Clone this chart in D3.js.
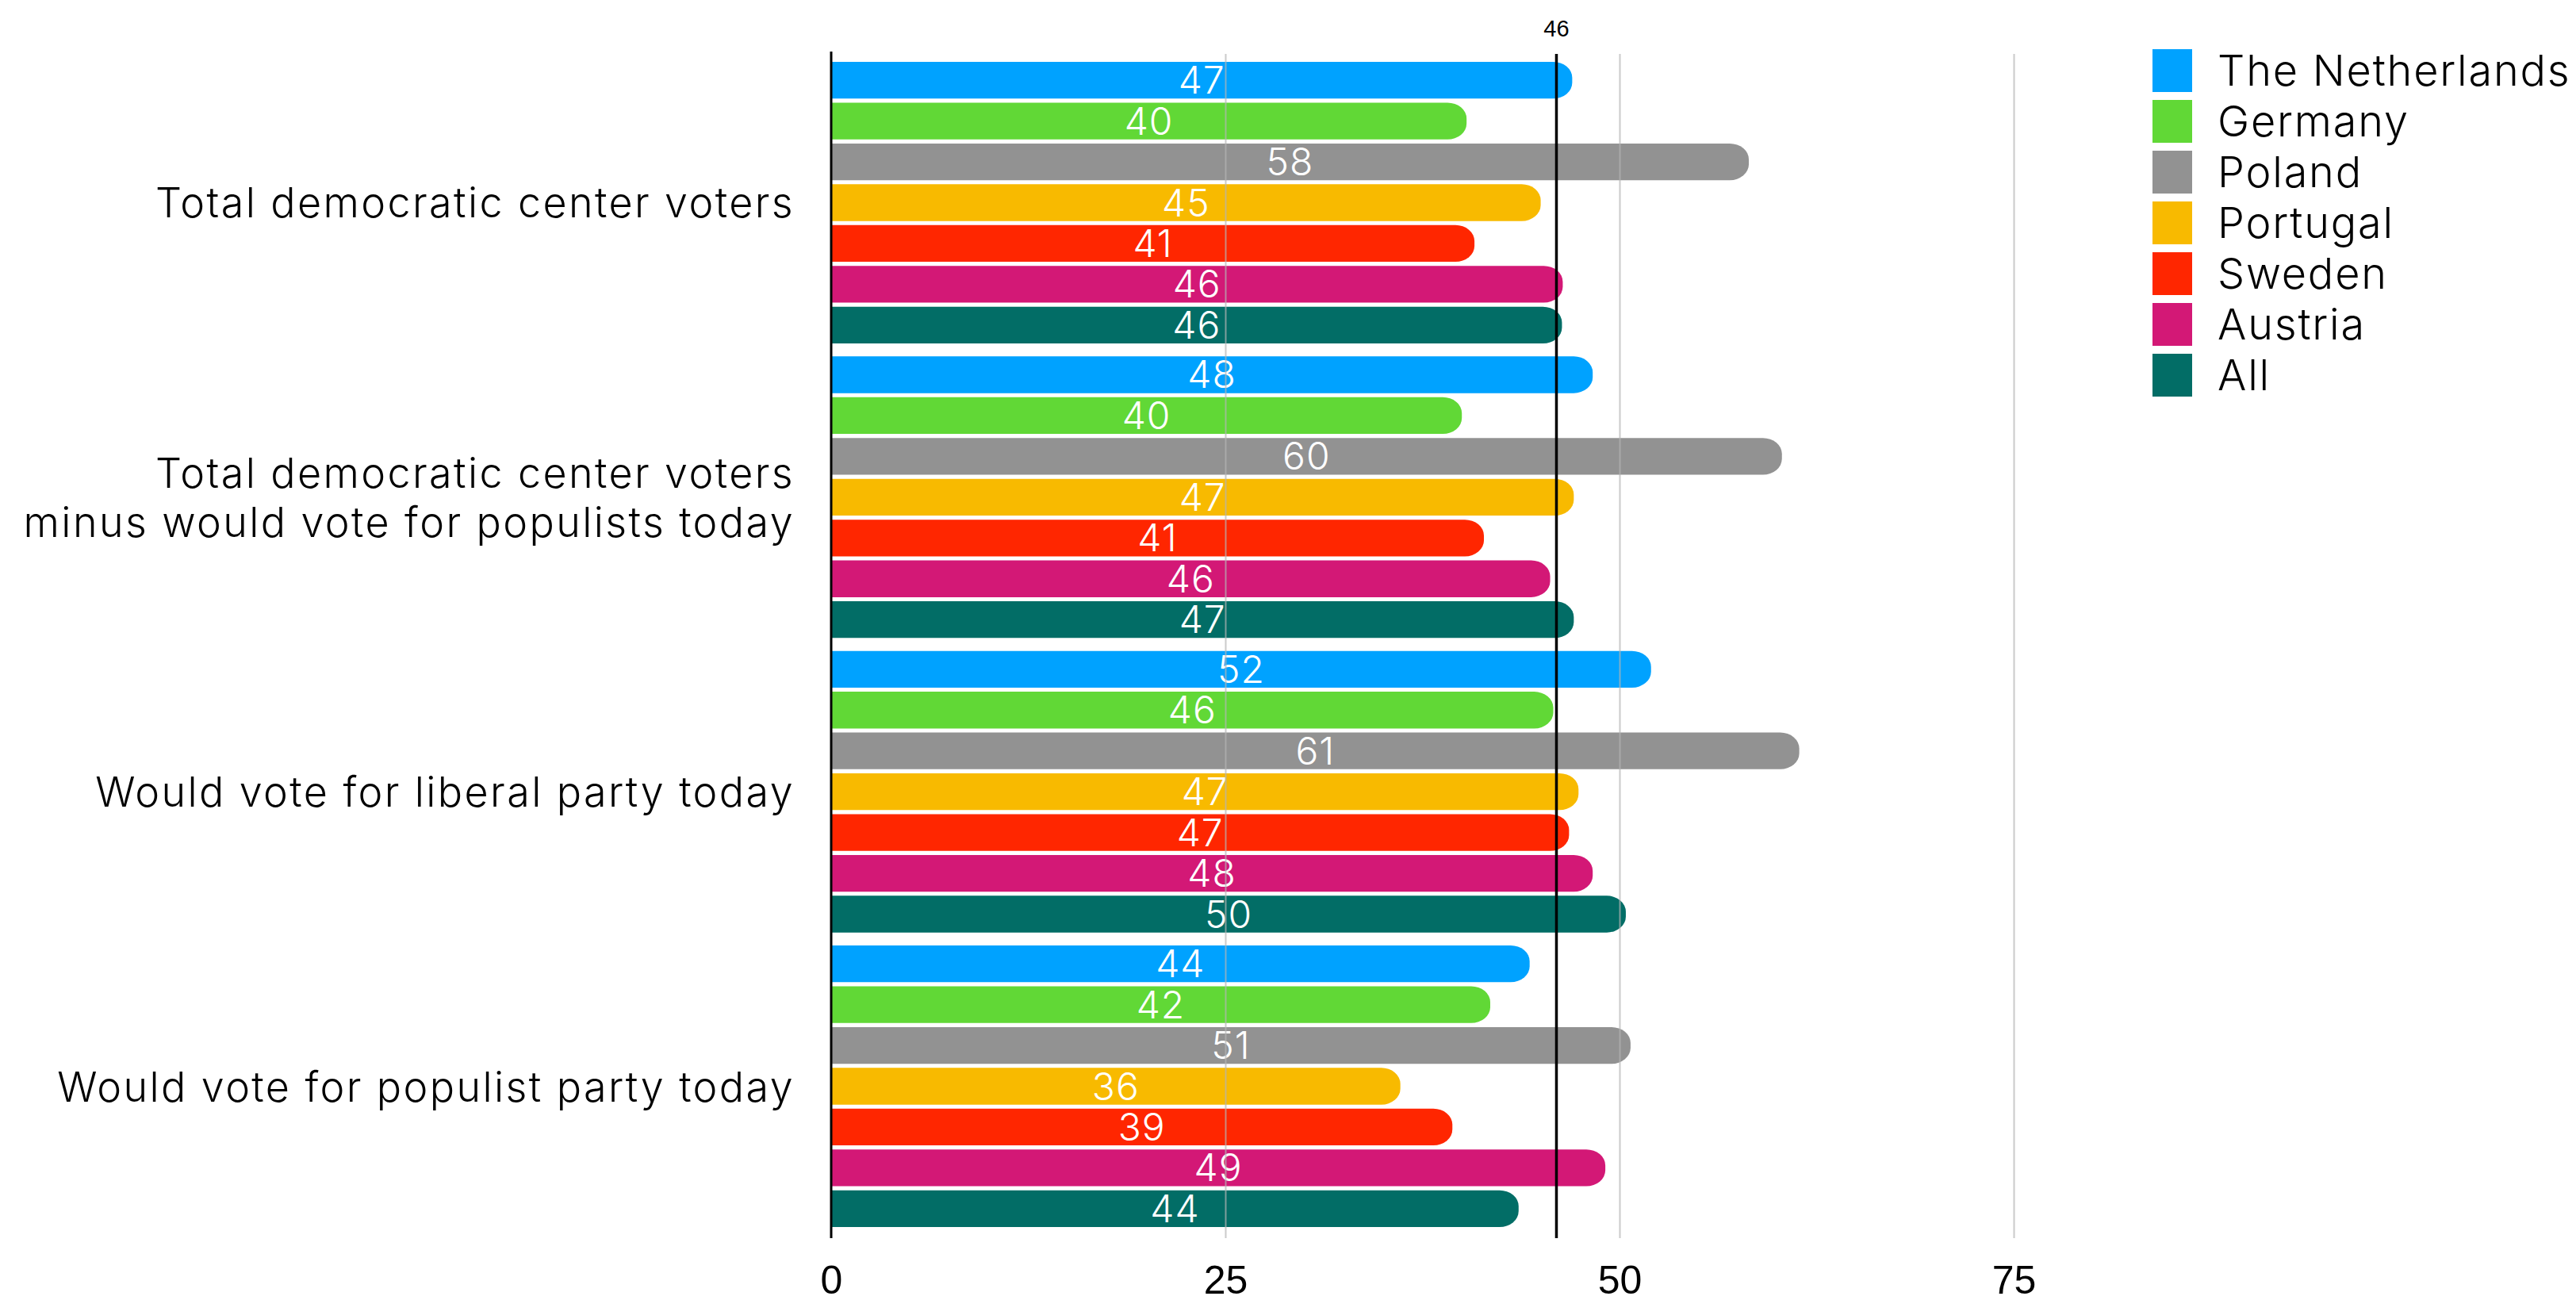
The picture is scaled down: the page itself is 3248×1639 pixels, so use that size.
<!DOCTYPE html>
<html>
<head>
<meta charset="utf-8">
<script src="https://cdn.jsdelivr.net/npm/d3@7"></script>
<style>
  body { margin: 0; background: #fff; }
  .light { font-family: Inter, Lato, "Open Sans", sans-serif; font-weight: 300; }
  .num { font-family: "Liberation Sans", Arial, sans-serif; }
</style>
</head>
<body>
<svg id="chart"></svg>
<script>
const categories = [
  ["Total democratic center voters"],
  ["Total democratic center voters", "minus would vote for populists today"],
  ["Would vote for liberal party today"],
  ["Would vote for populist party today"]
];
const countries = ["The Netherlands", "Germany", "Poland", "Portugal", "Sweden", "Austria", "All"];
const colors = ["#00a2ff", "#61d836", "#929292", "#f8ba00", "#ff2600", "#d31876", "#026d66"];

// one value per category, in category order
const netherlands = [47, 48.3, 52, 44.3];
const germany = [40.3, 40, 45.8, 41.8];
const poland = [58.2, 60.3, 61.4, 50.7];
const portugal = [45, 47.1, 47.4, 36.1];
const sweden = [40.8, 41.4, 46.8, 39.4];
const austria = [46.4, 45.6, 48.3, 49.1];
const all = [46.35, 47.1, 50.4, 43.6];
const series = [netherlands, germany, poland, portugal, sweden, austria, all];

const refValue = 46;
const xTicks = [0, 25, 50, 75];

const W = 3248, H = 1639;
const xLeft = 1048, xRight = 3036;
const plotTop = 78, plotBottom = 1547;

const svg = d3.select("#chart").attr("width", W).attr("height", H);

const x = d3.scaleLinear().domain([0, 100]).range([xLeft, xRight]);
const yGroup = d3.scaleBand().domain(d3.range(categories.length)).range([plotTop, plotBottom]).paddingInner(0.044);
const yBar = d3.scaleBand().domain(d3.range(countries.length)).range([0, yGroup.bandwidth()]).paddingInner(0.1);

function barPath(xs, y, w, h) {
  const rx = Math.min(24, w), ry = Math.min(20, h / 2);
  return `M${xs},${y}H${xs + w - rx}A${rx},${ry} 0 0 1 ${xs + w},${y + ry}V${y + h - ry}` +
    `A${rx},${ry} 0 0 1 ${xs + w - rx},${y + h}H${xs}Z`;
}

const rows = [];
categories.forEach((c, gi) => {
  series.forEach((s, si) => rows.push({g: gi, s: si, v: s[gi]}));
});

const bars = svg.append("g").selectAll("g").data(rows).enter().append("g")
  .attr("transform", d => `translate(0,${yGroup(d.g) + yBar(d.s)})`);

bars.append("path")
  .attr("d", d => barPath(x(0), 0, x(d.v) - x(0), yBar.bandwidth()))
  .attr("fill", d => colors[d.s]);

bars.append("text")
  .attr("class", "light")
  .attr("x", d => (x(0) + x(d.v)) / 2)
  .attr("y", yBar.bandwidth() / 2 + 17)
  .attr("text-anchor", "middle")
  .attr("font-size", 48)
  .attr("font-weight", 200)
  .attr("letter-spacing", 1)
  .attr("fill", "#fff")
  .text(d => Math.round(d.v));

// gridlines
svg.append("g")
  .attr("transform", `translate(0,${1561})`)
  .call(d3.axisBottom(x).tickValues(xTicks.slice(1)).tickSize(-1493).tickFormat(""))
  .call(g => g.select(".domain").remove())
  .call(g => g.selectAll("line").attr("stroke", "#b5b5b5").attr("stroke-width", 2).attr("stroke-opacity", 0.7));

// zero line
svg.append("line")
  .attr("x1", x(0)).attr("x2", x(0)).attr("y1", 65).attr("y2", 1561)
  .attr("stroke", "#000").attr("stroke-width", 3);

// reference line
svg.append("line")
  .attr("x1", x(refValue)).attr("x2", x(refValue)).attr("y1", 68).attr("y2", 1561)
  .attr("stroke", "#000").attr("stroke-width", 3.5);
svg.append("text")
  .attr("class", "num")
  .attr("x", x(refValue)).attr("y", 46)
  .attr("text-anchor", "middle")
  .attr("font-size", 29)
  .text(refValue);

// tick labels
svg.append("g")
  .attr("transform", `translate(0,${1561})`)
  .call(d3.axisBottom(x).tickValues(xTicks).tickSize(0).tickPadding(0))
  .call(g => g.select(".domain").remove())
  .call(g => g.selectAll("text")
    .attr("class", "num")
    .attr("font-size", 50)
    .attr("fill", "#000")
    .attr("dy", 0)
    .attr("y", 70));

// category labels
svg.append("g").selectAll("text").data(categories).enter().append("text")
  .attr("class", "light")
  .attr("text-anchor", "end")
  .attr("font-size", 52)
  .attr("letter-spacing", 2.4)
  .attr("fill", "#000")
  .each(function(lines, i) {
    const cy = yGroup(i) + yGroup.bandwidth() / 2;
    const lh = 62;
    const t = d3.select(this);
    lines.forEach((ln, k) => {
      t.append("tspan")
        .attr("x", 1002)
        .attr("y", cy + 19 + (k - (lines.length - 1) / 2) * lh)
        .text(ln);
    });
  });

// legend
const legend = svg.append("g").selectAll("g").data(countries).enter().append("g")
  .attr("transform", (d, i) => `translate(2714,${62 + i * 64})`);
legend.append("rect").attr("width", 50).attr("height", 54).attr("fill", (d, i) => colors[i]);
legend.append("text")
  .attr("class", "light")
  .attr("x", 82).attr("y", 46)
  .attr("font-size", 54)
  .attr("letter-spacing", 1.8)
  .attr("fill", "#000")
  .text(d => d);
</script>
</body>
</html>
